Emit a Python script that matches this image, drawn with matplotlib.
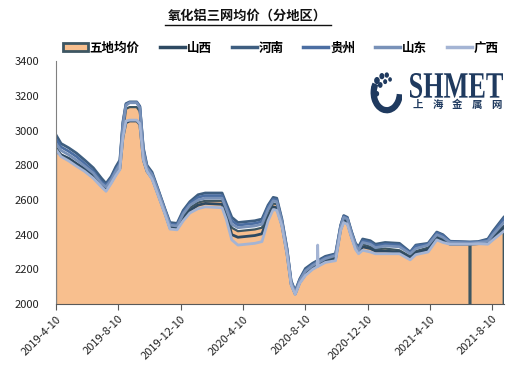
import numpy as np
import pandas as pd
import matplotlib
matplotlib.use("Agg")
import matplotlib.pyplot as plt
from matplotlib.patches import Patch, Arc, Circle, PathPatch
from matplotlib.lines import Line2D
from matplotlib.textpath import TextPath
from matplotlib.font_manager import FontProperties
from matplotlib.transforms import Affine2D, IdentityTransform

plt.rcParams['font.family'] = ['Noto Sans CJK SC', 'DejaVu Sans']

# 日期与各地区价格（元/吨）
dates = ["2019-04-10", "2019-04-20", "2019-05-05", "2019-05-20", "2019-06-05",
         "2019-06-22", "2019-07-08", "2019-07-17", "2019-07-27", "2019-08-05",
         "2019-08-13", "2019-08-19", "2019-08-25", "2019-09-01", "2019-09-15",
         "2019-09-21", "2019-09-28", "2019-10-05", "2019-10-15", "2019-10-27",
         "2019-11-09", "2019-11-19", "2019-12-03", "2019-12-15", "2019-12-28",
         "2020-01-13", "2020-01-27", "2020-02-29", "2020-03-08", "2020-03-19",
         "2020-03-31", "2020-05-03", "2020-05-17", "2020-05-29", "2020-06-08",
         "2020-06-15", "2020-06-25", "2020-07-05", "2020-07-13", "2020-07-21",
         "2020-07-30", "2020-08-10", "2020-08-24", "2020-09-02", "2020-09-03",
         "2020-09-04", "2020-09-18", "2020-10-08", "2020-10-18", "2020-10-24",
         "2020-10-31", "2020-11-08", "2020-11-16", "2020-11-22", "2020-11-30",
         "2020-12-15", "2020-12-25", "2021-01-13", "2021-02-10", "2021-03-03",
         "2021-03-14", "2021-04-07", "2021-04-24", "2021-05-06", "2021-05-20",
         "2021-06-27", "2021-06-28", "2021-06-29", "2021-07-14", "2021-08-02",
         "2021-08-12", "2021-09-02"]

avg = [2905, 2860, 2835, 2805, 2775, 2740, 2690, 2660, 2700, 2745,
       2790, 2980, 3125, 3135, 3135, 3110, 2870, 2780, 2735, 2640,
       2535, 2450, 2445, 2505, 2555, 2585, 2595, 2595, 2540, 2440,
       2420, 2430, 2440, 2530, 2580, 2575, 2470, 2300, 2120, 2060,
       2130, 2180, 2215, 2230, 2230, 2232, 2255, 2270, 2440, 2490,
       2480, 2400, 2330, 2300, 2345, 2330, 2315, 2320, 2310, 2275,
       2305, 2325, 2390, 2375, 2350, 2350, 0, 2350, 2352, 2360,
       2395, 2450]

shanxi = [2880, 2860, 2840, 2810, 2780, 2745, 2690, 2665, 2705, 2750,
          2780, 2960, 3045, 3055, 3055, 3035, 2830, 2765, 2725, 2630,
          2525, 2440, 2435, 2490, 2540, 2570, 2580, 2575, 2515, 2400,
          2385, 2395, 2405, 2500, 2560, 2555, 2455, 2290, 2115, 2058,
          2125, 2170, 2205, 2220, 2220, 2222, 2245, 2260, 2430, 2480,
          2470, 2390, 2325, 2295, 2330, 2320, 2305, 2305, 2300, 2265,
          2295, 2315, 2380, 2365, 2345, 2345, 2345, 2345, 2348, 2350,
          2380, 2440]

henan = [2975, 2925, 2900, 2870, 2830, 2785, 2725, 2695, 2735, 2790,
         2830, 3050, 3155, 3165, 3165, 3140, 2900, 2800, 2760, 2660,
         2550, 2470, 2465, 2540, 2590, 2630, 2640, 2640, 2580, 2500,
         2470, 2480, 2490, 2570, 2615, 2610, 2490, 2320, 2135, 2075,
         2145, 2205, 2235, 2250, 2250, 2252, 2275, 2290, 2455, 2510,
         2500, 2420, 2350, 2330, 2375, 2365, 2345, 2355, 2350, 2300,
         2340, 2350, 2415, 2400, 2362, 2358, 2358, 2358, 2360, 2375,
         2420, 2500]

guizhou = [2950, 2905, 2880, 2850, 2810, 2765, 2705, 2685, 2725, 2775,
           2815, 3040, 3150, 3162, 3162, 3138, 2890, 2790, 2750, 2655,
           2545, 2462, 2457, 2530, 2580, 2615, 2625, 2625, 2565, 2480,
           2455, 2465, 2475, 2560, 2605, 2600, 2480, 2315, 2130, 2070,
           2140, 2195, 2228, 2243, 2243, 2245, 2268, 2285, 2450, 2505,
           2495, 2415, 2345, 2320, 2365, 2355, 2335, 2345, 2340, 2295,
           2335, 2345, 2410, 2395, 2360, 2356, 2356, 2356, 2358, 2368,
           2410, 2490]

shandong = [2925, 2885, 2860, 2830, 2795, 2755, 2695, 2675, 2715, 2765,
            2805, 3030, 3145, 3160, 3160, 3130, 2880, 2785, 2745, 2650,
            2540, 2455, 2450, 2520, 2570, 2600, 2610, 2610, 2550, 2460,
            2440, 2450, 2460, 2545, 2595, 2590, 2475, 2310, 2125, 2065,
            2135, 2190, 2222, 2237, 2237, 2239, 2262, 2280, 2445, 2500,
            2490, 2410, 2340, 2310, 2355, 2345, 2325, 2335, 2330, 2290,
            2320, 2340, 2400, 2385, 2355, 2352, 2352, 2352, 2355, 2362,
            2400, 2470]

guangxi = [2890, 2850, 2825, 2795, 2765, 2725, 2675, 2650, 2695, 2740,
           2775, 2960, 3055, 3060, 3060, 3040, 2830, 2765, 2720, 2625,
           2520, 2432, 2428, 2480, 2525, 2550, 2560, 2555, 2490, 2370,
           2340, 2350, 2360, 2480, 2545, 2540, 2450, 2285, 2110, 2055,
           2120, 2165, 2200, 2215, 2340, 2218, 2240, 2250, 2425, 2470,
           2460, 2385, 2315, 2290, 2310, 2300, 2290, 2290, 2290, 2255,
           2285, 2300, 2370, 2355, 2345, 2345, 2345, 2345, 2348, 2345,
           2370, 2420]

tick_dates = ["2019-04-10", "2019-08-10", "2019-12-10", "2020-04-10",
              "2020-08-10", "2020-12-10", "2021-04-10", "2021-08-10"]
tick_labels = ["2019-4-10", "2019-8-10", "2019-12-10", "2020-4-10",
               "2020-8-10", "2020-12-10", "2021-4-10", "2021-8-10"]

x = pd.to_datetime(dates)

fig = plt.figure(figsize=(5.28, 3.82), dpi=100)
ax = fig.add_axes([0.106, 0.204, 0.849, 0.636])

area_face = "#F8BF8E"
area_edge = "#3D5662"
ax.fill_between(x, avg, 0, facecolor=area_face, edgecolor=area_edge, linewidth=1.6, zorder=1)

series = [("山西", shanxi, "#2E4A62"),
          ("河南", henan, "#3E5E80"),
          ("贵州", guizhou, "#4B6EA2"),
          ("山东", shandong, "#7891B8"),
          ("广西", guangxi, "#A4B4D4")]
for name, vals, col in series:
    ax.plot(x, vals, color=col, linewidth=2.0, zorder=2, solid_joinstyle='round')

ax.set_ylim(2000, 3400)
ax.set_yticks(np.arange(2000, 3401, 200))
ax.set_xlim(pd.Timestamp("2019-04-10"), pd.Timestamp("2021-09-03"))
ax.set_xticks(pd.to_datetime(tick_dates))
ax.set_xticklabels(tick_labels, rotation=45, ha='right', rotation_mode='anchor')

for s in ["top", "right"]:
    ax.spines[s].set_visible(False)
ax.spines["left"].set_color("#808080")
ax.spines["bottom"].set_color("#595959")
ax.tick_params(axis='y', length=0, pad=12, labelsize=8, labelcolor="#222222")
ax.tick_params(axis='x', length=4, color="#595959", pad=3, labelsize=8, labelcolor="#222222")

# 标题（带下划线）
fig.text(0.469, 0.958, "氧化铝三网均价（分地区）", ha='center', va='center',
         fontsize=9.5, fontweight='bold', color="#111111")
fig.add_artist(Line2D([0.312, 0.626], [0.934, 0.934], color="#111111", linewidth=1.0))

# 图例
handles = [Patch(facecolor=area_face, edgecolor=area_edge, linewidth=2.0, label="五地均价")]
for name, vals, col in series:
    handles.append(Line2D([0], [0], color=col, linewidth=2.5, label=name))
fig.legend(handles=handles, loc='center', bbox_to_anchor=(0.532, 0.874), ncol=6,
           frameon=False, handlelength=2.0, handleheight=0.6, handletextpad=0.15,
           columnspacing=1.6, prop={'weight': 'bold', 'size': 9})

# SHMET 标志
navy = "#1F3A5F"
tp = TextPath((0, 0), "SHMET", size=10, prop=FontProperties(family='Liberation Serif', weight='bold'))
ext = tp.get_extents()
box_x0, box_x1, box_y0, box_y1 = 410, 503, 382 - 98, 382 - 73
sx = (box_x1 - box_x0) / ext.width
sy = (box_y1 - box_y0) / ext.height
tr = Affine2D().translate(-ext.x0, -ext.y0).scale(sx, sy).translate(box_x0, box_y0)
fig.add_artist(PathPatch(tr.transform_path(tp), facecolor=navy, edgecolor='none',
                         transform=IdentityTransform()))
for i, ch in enumerate("上海金属网"):
    fig.text((418 + 19.5 * i) / 528, 1 - 105 / 382, ch, ha='center', va='center',
             fontsize=7.5, fontweight='bold', color=navy)
lax = fig.add_axes([0.700, 0.700, 0.062, 0.115])
lax.set_xlim(-1, 1)
lax.set_ylim(-1, 1)
lax.axis('off')
lax.add_patch(Arc((0.05, 0.0), 1.6, 1.6, theta1=150, theta2=355, color=navy, linewidth=4.5))
dots = [(-0.55, 0.55, 0.13), (-0.25, 0.75, 0.11), (0.05, 0.8, 0.09), (-0.75, 0.2, 0.12),
        (-0.35, 0.35, 0.10), (-0.05, 0.5, 0.08), (0.25, 0.6, 0.07), (-0.55, -0.05, 0.09)]
for dx, dy, r in dots:
    lax.add_patch(Circle((dx, dy), r, color=navy))

fig.savefig("out.png", dpi=100)
